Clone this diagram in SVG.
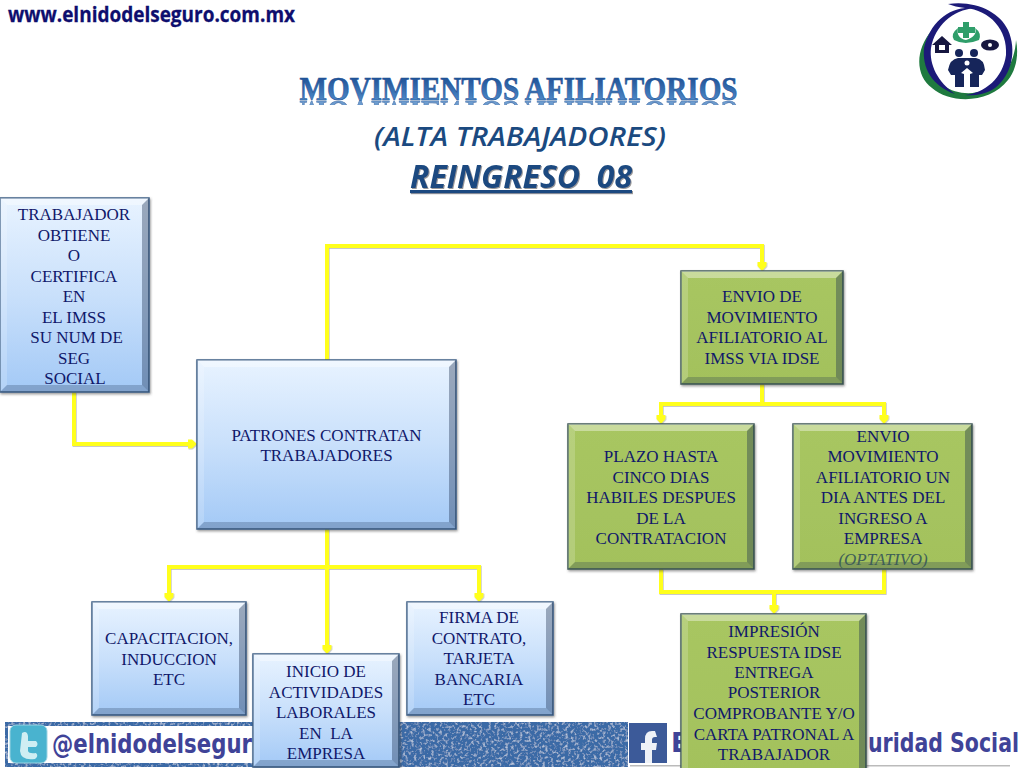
<svg xmlns="http://www.w3.org/2000/svg" xmlns:xlink="http://www.w3.org/1999/xlink" width="1024" height="768" viewBox="0 0 1024 768">
<style>
.n{font-family:"Liberation Serif","Times New Roman",serif;font-size:17px;fill:#10186a;text-anchor:middle}
.c{fill:none;stroke:#ffff1e;stroke-width:4;stroke-linejoin:miter}
.a{marker-end:url(#ah)}
.blue{fill:url(#gb);stroke:#3d5f86;stroke-width:1.5;filter:url(#ds)}
.green{fill:url(#gg);stroke:#3f5a55;stroke-width:1.5;filter:url(#ds)}
.bt{fill:#fff;opacity:.38}.bl{fill:#fff;opacity:.18}.br{fill:#1c3050;opacity:.38}.bb{fill:#1c3050;opacity:.25}
.sub{font-family:"Open Sans","Noto Sans",sans-serif;fill:#1b4a80;font-style:italic;text-anchor:middle}
.foot{font-family:"DejaVu Sans","Open Sans",sans-serif;font-weight:700;fill:#3f4398}
</style>
<defs>
<linearGradient id="gb" x1="0" y1="0" x2="0" y2="1"><stop offset="0" stop-color="#e8f3ff"/><stop offset=".5" stop-color="#c9e0fb"/><stop offset="1" stop-color="#a3c9f6"/></linearGradient>
<linearGradient id="gg" x1="0" y1="0" x2="0" y2="1"><stop offset="0" stop-color="#a8c662"/><stop offset="1" stop-color="#a3c15c"/></linearGradient>
<linearGradient id="gt" gradientUnits="userSpaceOnUse" x1="0" y1="76" x2="0" y2="102"><stop offset="0" stop-color="#1d4f94"/><stop offset="1" stop-color="#4f8ccb"/></linearGradient>
<linearGradient id="fade" gradientUnits="userSpaceOnUse" x1="0" y1="100" x2="0" y2="113"><stop offset="0" stop-color="#fff" stop-opacity=".8"/><stop offset="1" stop-color="#fff" stop-opacity="0"/></linearGradient>
<mask id="rm" maskUnits="userSpaceOnUse" x="280" y="96" width="480" height="24"><rect x="280" y="96" width="480" height="24" fill="url(#fade)"/></mask>
<filter id="ds" x="-10%" y="-10%" width="120%" height="120%"><feDropShadow dx="1" dy="1.5" stdDeviation="1.2" flood-color="#444" flood-opacity=".55"/></filter>
<filter id="cs" filterUnits="userSpaceOnUse" x="0" y="0" width="1024" height="768"><feDropShadow dx=".6" dy=".8" stdDeviation=".7" flood-color="#777" flood-opacity=".5"/></filter>
<filter id="ts"><feDropShadow dx="1" dy="1" stdDeviation=".7" flood-color="#555" flood-opacity=".6"/></filter>
<filter id="denim" x="0" y="0" width="100%" height="100%"><feTurbulence type="fractalNoise" baseFrequency=".35" numOctaves="2" seed="4"/><feColorMatrix values="0 0 0 0 .72  0 0 0 0 .8  0 0 0 0 .9  1.9 0 0 0 -.95"/><feComposite in2="SourceGraphic" operator="over"/></filter>
<marker id="ah" markerUnits="userSpaceOnUse" markerWidth="9" markerHeight="10" refX="5" refY="5" orient="auto"><path d="M0 .5 L4 .5 L9 5 L4 9.500 L0 9.500 Z" fill="#ffff1e"/></marker>
</defs>
<rect width="1024" height="768" fill="#fff"/>

<g id="header">
<text x="8" y="22" style="font-family:'Open Sans','Noto Sans',sans-serif;font-weight:700;font-size:22px;fill:#0e0e6e;stroke:#0e0e6e;stroke-width:.3" textLength="287" lengthAdjust="spacingAndGlyphs">www.elnidodelseguro.com.mx</text>
</g>

<g id="logo">
<path d="M932 30 C915 50 915 75 932 88 C950 104 990 104 1008 80 C1016 70 1019 55 1016 40 C1015 62 1003 82 985 90 C962 99 935 88 927 65 C923 52 925 40 932 30Z" fill="#1f7a3f"/>
<path d="M948 4 C975 0 1000 12 1008 30 C1017 50 1012 75 995 88 C985 95 972 96 965 95 C985 93 1003 78 1006 55 C1008 30 990 10 965 8 C958 7 953 6 948 4Z" fill="#1c1a78"/>
<path d="M975 8 C950 5 930 22 924 48 C922 68 932 86 955 94 C938 82 929 65 931 48 C935 26 952 10 975 8Z" fill="#1c1a78"/>
<path d="M963 22h6v5h6v6h-6v5h-6v-5h-5v-6h5z" fill="#2f9e6a"/>
<path d="M958 28 Q950 34 954 40 Q965 46 979 40 Q982 33 975 28 Q978 36 966 40 Q956 38 958 28Z" fill="#2f9e6a"/>
<path d="M932 45 L942 36 L952 45 L949 45 V53 H935 V45 Z" fill="#16163f"/>
<rect x="939" y="45" width="6" height="5" fill="#fff"/>
<ellipse cx="990" cy="45" rx="9" ry="5.500" fill="#16163f"/>
<circle cx="990" cy="45" r="2" fill="#fff"/>
<circle cx="959" cy="53" r="4" fill="#16255a"/><circle cx="974" cy="53" r="4" fill="#16255a"/>
<path d="M948 70 Q950 59 958 58 H976 Q984 59 985 70 L982 75 H979 V87 H955 V75 H951 Z" fill="#16255a"/>
<circle cx="967" cy="63" r="2.500" fill="#fff"/>
<path d="M967 68 L973 73 L970 74 V87 H964 V74 L961 73Z" fill="#fff"/>
</g>

<g id="title">
<text id="t1" x="518.500" y="100" text-anchor="middle" textLength="438" lengthAdjust="spacingAndGlyphs" style="font-family:'Liberation Serif',serif;font-weight:700;font-size:33px;fill:url(#gt);stroke:#1d4f94;stroke-width:.6">MOVIMIENTOS AFILIATORIOS</text>
<use href="#t1" xlink:href="#t1" transform="matrix(1 0 0 -1 0 201)" mask="url(#rm)"/>
<text class="sub" x="520" y="146" font-size="27" font-weight="600" textLength="292" lengthAdjust="spacingAndGlyphs">(ALTA TRABAJADORES)</text>
<text class="sub" x="521" y="188" font-size="32" font-weight="700" text-decoration="underline" textLength="222" lengthAdjust="spacingAndGlyphs" xml:space="preserve" style="white-space:pre;filter:url(#ts)">REINGRESO  08</text>
</g>

<g id="banner">
<rect x="5" y="722" width="623" height="45" fill="#3b6aa6" filter="url(#denim)"/>
<rect x="8" y="726" width="390" height="37" fill="#fff"/>
<rect x="10" y="725" width="37" height="38" rx="6" fill="#49b3cf" stroke="#9bd3e2"/>
<path d="M22 733 q5 -3 6 3 v5 h8 q3 3 0 6 h-8 v4 q1 3 8 2 q3 3 -1 6 q-14 2 -15 -8 z" fill="#cfeef3"/>
<text class="foot" x="52" y="753" font-size="27" textLength="200" lengthAdjust="spacingAndGlyphs">@elnidodelsegur</text>
<rect x="629" y="723" width="38" height="40" fill="#3c5a99"/>
<path d="M655 731 h-3 q-7 0 -7 8 v4 h-4 v7 h4 v13 h7 v-13 h4 l1 -7 h-5 v-3 q0 -3 3 -3 h2z" fill="#eef1f7"/>
<text class="foot" x="671" y="752" font-size="26">E</text>
<text class="foot" x="868" y="752" font-size="26" textLength="151" lengthAdjust="spacingAndGlyphs">uridad Social</text>
<rect x="630" y="765" width="380" height="1.500" fill="#bbb"/>
</g>

<g id="connectors" filter="url(#cs)">
<path class="c a" d="M74 392V444H193"/>
<path class="c a" d="M327 360V246H762V267"/>
<path class="c a" d="M327 529V650"/>
<path class="c a" d="M327 567H169V598"/>
<path class="c a" d="M327 567H479V598"/>
<path class="c" d="M762 384V404"/>
<path class="c a" d="M762 404H661V420"/>
<path class="c a" d="M762 404H884V420"/>
<path class="c" d="M661 569V592H884V569"/>
<path class="c a" d="M774 592V610"/>
</g>

<g id="n-trabajador">
<rect class="blue" x="0" y="198" width="149" height="194"/>
<polygon class="bt" points="0,198 149,198 142,205 7,205"/><polygon class="bl" points="0,198 7,205 7,385 0,392"/><polygon class="br" points="149,198 149,392 142,385 142,205"/><polygon class="bb" points="0,392 149,392 142,385 7,385"/>
<text class="n"><tspan x="74" y="220">TRABAJADOR</tspan><tspan x="74" y="240.500">OBTIENE</tspan><tspan x="74" y="261">O</tspan><tspan x="74" y="281.500">CERTIFICA</tspan><tspan x="74" y="302">EN</tspan><tspan x="74" y="322.500">EL IMSS</tspan><tspan x="76.500" y="343">SU NUM DE</tspan><tspan x="74" y="363.500">SEG</tspan><tspan x="75" y="384">SOCIAL</tspan></text>
</g>

<g id="n-patrones">
<rect class="blue" x="197" y="360" width="259" height="169"/>
<polygon class="bt" points="197,360 456,360 449,367 204,367"/><polygon class="bl" points="197,360 204,367 204,522 197,529"/><polygon class="br" points="456,360 456,529 449,522 449,367"/><polygon class="bb" points="197,529 456,529 449,522 204,522"/>
<text class="n"><tspan x="326.500" y="441">PATRONES CONTRATAN</tspan><tspan x="326.500" y="461">TRABAJADORES</tspan></text>
</g>

<g id="n-envio">
<rect class="green" x="681" y="271" width="162" height="113"/>
<polygon class="bt" points="681,271 843,271 836,278 688,278"/><polygon class="bl" points="681,271 688,278 688,377 681,384"/><polygon class="br" points="843,271 843,384 836,377 836,278"/><polygon class="bb" points="681,384 843,384 836,377 688,377"/>
<text class="n"><tspan x="762" y="302">ENVIO DE</tspan><tspan x="762" y="323">MOVIMIENTO</tspan><tspan x="762" y="343">AFILIATORIO AL</tspan><tspan x="762" y="364">IMSS VIA IDSE</tspan></text>
</g>

<g id="n-plazo">
<rect class="green" x="568" y="424" width="186" height="145"/>
<polygon class="bt" points="568,424 754,424 747,431 575,431"/><polygon class="bl" points="568,424 575,431 575,562 568,569"/><polygon class="br" points="754,424 754,569 747,562 747,431"/><polygon class="bb" points="568,569 754,569 747,562 575,562"/>
<text class="n"><tspan x="661" y="462">PLAZO HASTA</tspan><tspan x="661" y="482.500">CINCO DIAS</tspan><tspan x="661" y="503">HABILES DESPUES</tspan><tspan x="661" y="523.500">DE LA</tspan><tspan x="661" y="544">CONTRATACION</tspan></text>
</g>

<g id="n-optativo">
<rect class="green" x="793" y="424" width="179" height="145"/>
<polygon class="bt" points="793,424 972,424 965,431 800,431"/><polygon class="bl" points="793,424 800,431 800,562 793,569"/><polygon class="br" points="972,424 972,569 965,562 965,431"/><polygon class="bb" points="793,569 972,569 965,562 800,562"/>
<text class="n"><tspan x="883" y="441.500">ENVIO</tspan><tspan x="883" y="462">MOVIMIENTO</tspan><tspan x="883" y="482.500">AFILIATORIO UN</tspan><tspan x="883" y="503">DIA ANTES DEL</tspan><tspan x="883" y="523.500">INGRESO A</tspan><tspan x="883" y="544">EMPRESA</tspan><tspan x="883" y="564.500" font-style="italic" fill="#3f5f58">(OPTATIVO)</tspan></text>
</g>

<g id="n-impresion">
<rect class="green" x="681" y="614" width="185" height="160"/>
<polygon class="bt" points="681,614 866,614 859,621 688,621"/><polygon class="bl" points="681,614 688,621 688,774 681,774"/><polygon class="br" points="866,614 866,774 859,774 859,621"/>
<text class="n"><tspan x="774" y="637">IMPRESIÓN</tspan><tspan x="774" y="657.500">RESPUESTA IDSE</tspan><tspan x="774" y="678">ENTREGA</tspan><tspan x="774" y="698">POSTERIOR</tspan><tspan x="774" y="719">COMPROBANTE Y/O</tspan><tspan x="774" y="739.500">CARTA PATRONAL A</tspan><tspan x="774" y="760">TRABAJADOR</tspan></text>
</g>

<g id="n-capacitacion">
<rect class="blue" x="92" y="602" width="154" height="113"/>
<polygon class="bt" points="92,602 246,602 239,609 99,609"/><polygon class="bl" points="92,602 99,609 99,708 92,715"/><polygon class="br" points="246,602 246,715 239,708 239,609"/><polygon class="bb" points="92,715 246,715 239,708 99,708"/>
<text class="n"><tspan x="169" y="644">CAPACITACION,</tspan><tspan x="169" y="664.500">INDUCCION</tspan><tspan x="169" y="685">ETC</tspan></text>
</g>

<g id="n-inicio">
<rect class="blue" x="253" y="654" width="146" height="113"/>
<polygon class="bt" points="253,654 399,654 392,661 260,661"/><polygon class="bl" points="253,654 260,661 260,760 253,767"/><polygon class="br" points="399,654 399,767 392,760 392,661"/><polygon class="bb" points="253,767 399,767 392,760 260,760"/>
<text class="n"><tspan x="326" y="677">INICIO DE</tspan><tspan x="326" y="697.500">ACTIVIDADES</tspan><tspan x="326" y="718">LABORALES</tspan><tspan x="326" y="738.500" xml:space="preserve" style="white-space:pre">EN  LA</tspan><tspan x="326" y="759">EMPRESA</tspan></text>
</g>

<g id="n-firma">
<rect class="blue" x="407" y="602" width="146" height="113"/>
<polygon class="bt" points="407,602 553,602 546,609 414,609"/><polygon class="bl" points="407,602 414,609 414,708 407,715"/><polygon class="br" points="553,602 553,715 546,708 546,609"/><polygon class="bb" points="407,715 553,715 546,708 414,708"/>
<text class="n"><tspan x="479" y="623">FIRMA DE</tspan><tspan x="479" y="643.500">CONTRATO,</tspan><tspan x="479" y="664">TARJETA</tspan><tspan x="479" y="684.500">BANCARIA</tspan><tspan x="479" y="705">ETC</tspan></text>
</g>
</svg>
